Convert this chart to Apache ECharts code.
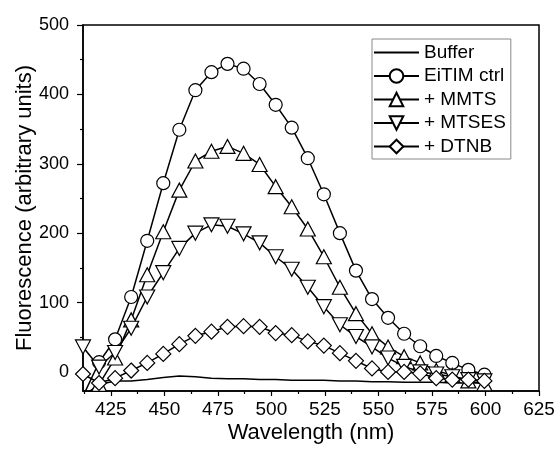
<!DOCTYPE html>
<html>
<head>
<meta charset="utf-8">
<script src="https://cdn.jsdelivr.net/npm/echarts@6/dist/echarts.min.js"></script>
<style>
    html, body { margin: 0; padding: 0; background: #fff; }
    #chart { width: 556px; height: 454px; }
</style>
</head>
<body>
<div id="chart"></div>
<script>
const wavelengths = [412, 419.5, 427, 434.5, 442, 449.5, 457, 464.5, 472, 479.5, 487, 494.5, 502,
    509.5, 517, 524.5, 532, 539.5, 547, 554.5, 562, 569.5, 577, 584.5, 592, 599.5];

const buffer = [-35, -18, -13, -13, -11, -8, -6, -7, -9, -10, -10, -11, -11, -12, -12, -12, -13,
    -13, -14, -14, -15, -15, -15, -16, -16, -16];
const eitimCtrl = [-35, 14, 47, 108, 189, 272, 349, 406, 432, 444, 437, 415, 385, 352, 308, 256,
    200, 146, 105, 78, 55, 37, 23, 13, 3, -4];
const mmts = [-40, -18, 20, 75, 140, 202, 262, 304, 318, 325, 315, 299, 267, 238, 206, 166, 122,
    84, 55, 36, 22, 13, 2, -5, -13, -17];
const mtses = [36, 7, 28, 63, 108, 143, 178, 200, 212, 210, 199, 186, 166, 148, 122, 94, 68, 51,
    36, 20, 8, 0, -3, -7, -11, -13];
const dtnb = [-3, -16, -9, 2, 13, 26, 40, 52, 58, 65, 66, 65, 56, 53, 44, 38, 27, 16, 5, 0, 0, -2,
    -9, -11, -11, -13];

const xMajorTicks = [425, 450, 475, 500, 525, 550, 575, 600, 625];
const xMinorTicks = [412.5, 437.5, 462.5, 487.5, 512.5, 537.5, 562.5, 587.5, 612.5];
const yMajorTicks = [0, 100, 200, 300, 400, 500];
const yMinorTicks = [50, 150, 250, 350, 450];

const FONT = '"Liberation Sans", Arial, sans-serif';
const INK = '#000';

const pairs = vals => wavelengths.map((w, i) => [w, vals[i]]);

const lineSeries = (name, vals, symbol, size, rotate) => ({
    name,
    type: 'line',
    data: pairs(vals),
    symbol,
    symbolSize: size,
    symbolRotate: rotate || 0,
    showSymbol: symbol !== 'none',
    lineStyle: { color: INK, width: 1.5 },
    itemStyle: { color: '#fff', borderColor: INK, borderWidth: 1.2 },
    emphasis: { disabled: true },
    animation: false,
    clip: true
});

const chart = echarts.init(document.getElementById('chart'));

chart.setOption({
    backgroundColor: '#fff',
    textStyle: { fontFamily: FONT, color: INK },
    grid: {
        left: 83, right: 17, top: 25, bottom: 63,
        show: true, borderColor: INK, borderWidth: 1.5,
        outerBoundsMode: 'none'
    },
    legend: {
        orient: 'vertical',
        left: 372,
        top: 39,
        itemWidth: 45,
        itemHeight: 17,
        itemGap: 4.5,
        padding: [4, 5, 3, 1],
        borderColor: '#888',
        borderWidth: 1,
        textStyle: { fontSize: 19, color: INK, fontFamily: FONT },
        data: [
            { name: 'Buffer', icon: 'path://M0,0H45V2H0Z', itemStyle: { color: INK, borderWidth: 0 } },
            'EiTIM ctrl', '+ MMTS', '+ MTSES', '+ DTNB'
        ]
    },
    xAxis: [{
        type: 'value',
        min: 412, max: 625,
        name: 'Wavelength (nm)',
        nameLocation: 'middle',
        nameGap: 31,
        nameMoveOverlap: false,
        nameTextStyle: { fontSize: 22, color: INK, fontFamily: FONT },
        axisLine: { onZero: false, lineStyle: { color: INK, width: 1.5 } },
        axisTick: { customValues: xMajorTicks, length: 5, lineStyle: { color: INK, width: 1.2 } },
        axisLabel: { customValues: xMajorTicks, fontSize: 19, color: INK, margin: 9, fontFamily: FONT },
        splitLine: { show: false }
    }, {
        type: 'value',
        position: 'bottom',
        min: 412, max: 625,
        axisLine: { show: false, onZero: false },
        axisTick: { customValues: xMinorTicks, length: 3, lineStyle: { color: INK, width: 1.2 } },
        axisLabel: { show: false },
        splitLine: { show: false }
    }],
    yAxis: [{
        type: 'value',
        min: -27.5, max: 500,
        name: 'Fluorescence (arbitrary units)',
        nameLocation: 'middle',
        nameGap: 47,
        nameMoveOverlap: false,
        nameTextStyle: { fontSize: 22, color: INK, fontFamily: FONT },
        axisLine: { show: true, onZero: false, lineStyle: { color: INK, width: 1.5 } },
        axisTick: { customValues: yMajorTicks, length: 6, lineStyle: { color: INK, width: 1.2 } },
        axisLabel: { customValues: yMajorTicks, fontSize: 18, color: INK, margin: 14, fontFamily: FONT },
        splitLine: { show: false }
    }, {
        type: 'value',
        position: 'left',
        min: -27.5, max: 500,
        axisLine: { show: false, onZero: false },
        axisTick: { customValues: yMinorTicks, length: 3, lineStyle: { color: INK, width: 1.2 } },
        axisLabel: { show: false },
        splitLine: { show: false }
    }],
    series: [
        lineSeries('Buffer', buffer, 'none', 0),
        lineSeries('EiTIM ctrl', eitimCtrl, 'circle', 13),
        lineSeries('+ MMTS', mmts, 'triangle', [15, 14]),
        lineSeries('+ MTSES', mtses, 'triangle', [15, 14], 180),
        lineSeries('+ DTNB', dtnb, 'diamond', 15)
    ]
});
</script>
</body>
</html>
